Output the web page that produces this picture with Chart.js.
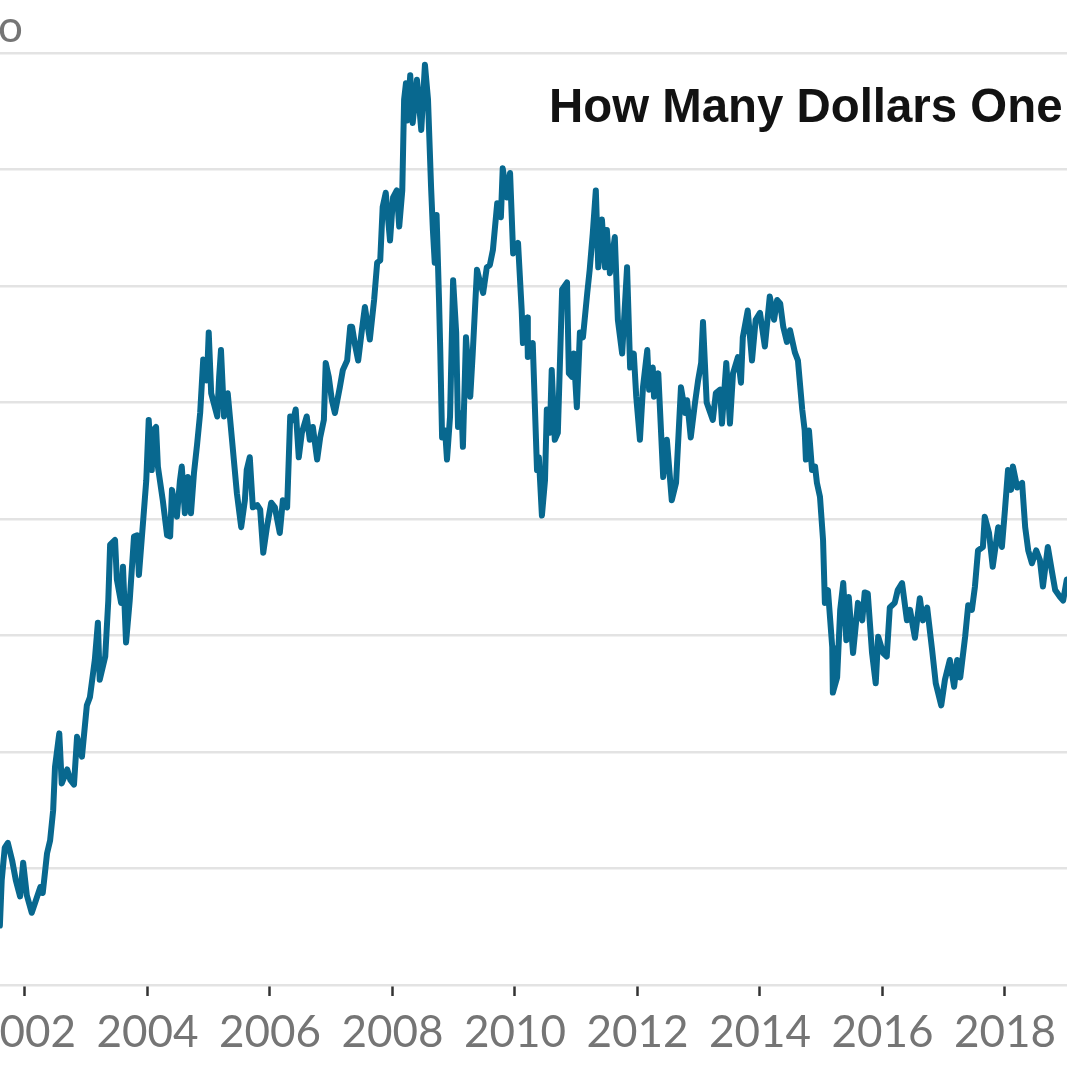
<!DOCTYPE html>
<html><head><meta charset="utf-8">
<script src="https://cdn.jsdelivr.net/npm/chart.js@4.4.1/dist/chart.umd.min.js"></script>
<style>
html,body{margin:0;padding:0;background:#fff;overflow:hidden;width:1067px;height:1067px;position:relative;}
#wrap{position:absolute;left:-60px;top:0;width:1187px;height:1067px;}
#title{position:absolute;left:549px;top:82px;font-family:"Liberation Sans",Arial,sans-serif;font-weight:bold;font-size:47.4px;line-height:47px;color:#121212;white-space:nowrap;}
</style></head><body>
<div id="wrap"><canvas id="c" width="1187" height="1067"></canvas></div>
<div id="title">How Many Dollars One Euro Buys</div>
<script>
// Dates as decimal years, values in dollars per euro
const dates = [
2001.59,2001.62,2001.67,2001.72,2001.79,2001.85,2001.92,2001.97,2002.03,2002.11,2002.18,2002.25,2002.29,2002.36,2002.41,2002.46,2002.49,2002.56,2002.60,2002.69,2002.74,2002.80,2002.85,2002.93,
2003.01,2003.06,2003.14,2003.19,2003.22,2003.31,2003.36,2003.39,2003.47,2003.50,2003.57,2003.60,2003.65,2003.71,2003.78,2003.83,2003.86,2003.93,2003.98,
2004.02,2004.07,2004.09,2004.14,2004.17,2004.25,2004.32,2004.37,2004.40,2004.45,2004.48,2004.53,2004.56,2004.61,2004.66,2004.71,2004.76,2004.81,2004.86,2004.91,2004.97,
2005.00,2005.04,2005.10,2005.14,2005.17,2005.20,2005.25,2005.31,2005.38,2005.46,2005.53,2005.59,2005.62,2005.67,2005.72,2005.79,2005.84,2005.89,2005.95,
2006.02,2006.08,2006.16,2006.21,2006.28,2006.33,2006.38,2006.42,2006.47,2006.52,2006.60,2006.65,2006.70,2006.77,2006.82,2006.88,2006.91,2006.96,
2007.01,2007.06,2007.14,2007.19,2007.26,2007.31,2007.34,2007.39,2007.44,2007.50,2007.55,2007.63,2007.70,2007.75,2007.80,2007.84,2007.89,2007.96,
2008.01,2008.07,2008.11,2008.16,2008.19,2008.22,2008.24,2008.29,2008.33,2008.40,2008.47,2008.53,2008.58,2008.63,2008.66,2008.69,2008.72,2008.76,2008.78,2008.81,2008.86,2008.89,2008.94,2008.99,
2009.04,2009.07,2009.13,2009.15,2009.20,2009.27,2009.31,2009.38,2009.43,2009.48,2009.54,2009.59,2009.64,2009.71,2009.77,2009.80,2009.87,2009.92,2009.97,
2010.05,2010.11,2010.13,2010.20,2010.21,2010.29,2010.36,2010.39,2010.44,2010.49,2010.52,2010.57,2010.60,2010.65,2010.70,2010.77,2010.85,2010.88,2010.93,2010.96,
2011.01,2011.06,2011.11,2011.18,2011.22,2011.27,2011.32,2011.36,2011.42,2011.47,2011.50,2011.55,2011.63,2011.68,2011.75,2011.83,2011.88,2011.94,2011.98,
2012.04,2012.09,2012.16,2012.19,2012.25,2012.27,2012.34,2012.42,2012.48,2012.56,2012.63,2012.71,2012.78,2012.81,2012.87,2012.94,2012.99,
2013.04,2013.07,2013.13,2013.23,2013.28,2013.35,2013.38,2013.45,2013.51,2013.56,2013.64,2013.69,2013.72,2013.80,2013.87,2013.93,
2014.00,2014.08,2014.16,2014.23,2014.28,2014.33,2014.38,2014.44,2014.49,2014.57,2014.62,2014.69,2014.73,2014.75,2014.80,2014.85,2014.90,2014.93,2014.98,
2015.03,2015.06,2015.11,2015.18,2015.19,2015.26,2015.31,2015.36,2015.41,2015.45,2015.52,2015.60,2015.67,2015.71,2015.76,2015.83,2015.89,2015.93,
2016.01,2016.07,2016.12,2016.20,2016.25,2016.32,2016.40,2016.45,2016.53,2016.61,2016.66,2016.73,2016.81,2016.87,2016.96,
2017.02,2017.10,2017.17,2017.22,2017.27,2017.35,2017.40,2017.46,2017.51,2017.56,2017.64,2017.67,2017.74,2017.80,2017.89,2017.95,
2018.00,2018.05,2018.10,2018.13,2018.20,2018.28,2018.33,2018.38,2018.44,2018.51,2018.57,2018.62,2018.70,2018.77,2018.82,2018.90,2018.95,2019.01
];
const rates = [
0.851,0.890,0.918,0.922,0.907,0.890,0.876,0.905,0.877,0.862,0.873,0.884,0.879,0.913,0.924,0.950,0.987,1.016,0.973,0.985,0.976,0.972,1.013,0.996,
1.040,1.047,1.079,1.111,1.062,1.082,1.130,1.178,1.182,1.148,1.128,1.159,1.094,1.130,1.185,1.186,1.152,1.199,1.233,
1.285,1.242,1.276,1.279,1.245,1.216,1.186,1.185,1.225,1.210,1.202,1.233,1.245,1.205,1.236,1.205,1.240,1.264,1.291,1.337,1.319,
1.360,1.308,1.296,1.288,1.322,1.345,1.288,1.308,1.268,1.222,1.193,1.216,1.242,1.253,1.210,1.212,1.208,1.171,1.193,
1.214,1.210,1.188,1.216,1.210,1.288,1.285,1.294,1.253,1.274,1.288,1.268,1.279,1.251,1.270,1.285,1.334,1.322,
1.302,1.291,1.313,1.328,1.336,1.365,1.365,1.349,1.336,1.362,1.382,1.354,1.388,1.420,1.422,1.468,1.480,1.439,
1.476,1.482,1.451,1.482,1.560,1.574,1.542,1.581,1.540,1.577,1.534,1.590,1.560,1.485,1.448,1.420,1.461,1.388,1.345,1.270,1.276,1.251,1.288,1.405,
1.360,1.279,1.291,1.262,1.356,1.305,1.342,1.414,1.403,1.394,1.416,1.418,1.431,1.471,1.459,1.501,1.476,1.497,1.428,
1.437,1.379,1.351,1.373,1.339,1.351,1.242,1.253,1.203,1.233,1.294,1.274,1.328,1.268,1.274,1.397,1.403,1.325,1.322,1.342,
1.296,1.360,1.356,1.394,1.414,1.445,1.482,1.416,1.457,1.416,1.448,1.411,1.442,1.371,1.342,1.416,1.330,1.342,1.305,
1.268,1.313,1.345,1.311,1.330,1.305,1.325,1.236,1.268,1.216,1.231,1.313,1.291,1.302,1.270,1.300,1.319,
1.334,1.369,1.300,1.285,1.308,1.311,1.282,1.334,1.282,1.325,1.339,1.317,1.356,1.379,1.336,1.371,
1.377,1.348,1.391,1.371,1.388,1.385,1.365,1.352,1.362,1.343,1.336,1.294,1.276,1.251,1.276,1.242,1.245,1.231,1.219,
1.182,1.128,1.139,1.090,1.051,1.064,1.122,1.145,1.096,1.133,1.085,1.128,1.113,1.137,1.136,1.085,1.059,1.099,
1.085,1.082,1.124,1.128,1.139,1.145,1.113,1.122,1.098,1.132,1.113,1.124,1.088,1.059,1.040,
1.062,1.079,1.056,1.079,1.064,1.099,1.126,1.122,1.142,1.173,1.176,1.202,1.188,1.159,1.193,1.176,
1.208,1.242,1.225,1.245,1.227,1.231,1.193,1.173,1.162,1.173,1.165,1.142,1.176,1.154,1.139,1.133,1.130,1.148
];
const xTickYears = [2002, 2004, 2006, 2008, 2010, 2012, 2014, 2016, 2018];
const yTickValues = [0.8, 0.9, 1.0, 1.1, 1.2, 1.3, 1.4, 1.5, 1.6];
const yTickLabels = ['0.80', '0.90', '1.00', '1.10', '1.20', '1.30', '1.40', '1.50', '$1.60 per euro'];

const yLabelPlugin = {
  id: 'yLabels',
  afterDraw(chart) {
    const ctx = chart.ctx, ys = chart.scales.y, area = chart.chartArea;
    ctx.save();
    ctx.font = '44px Lato';
    ctx.fillStyle = '#757575';
    ctx.textAlign = 'left';
    ctx.textBaseline = 'alphabetic';
    const topW = ctx.measureText(yTickLabels[yTickLabels.length - 1]).width;
    const startX = area.left + 23 - topW;
    yTickValues.forEach((v, i) => {
      ctx.fillText(yTickLabels[i], startX, ys.getPixelForValue(v) - 11);
    });
    ctx.restore();
  }
};

new Chart(document.getElementById('c').getContext('2d'), {
  type: 'line',
  data: {
    datasets: [{
      data: dates.map((d, i) => ({ x: d, y: rates[i] })),
      borderColor: '#08688f',
      borderWidth: 6,
      pointRadius: 0,
      tension: 0,
      borderJoinStyle: 'round',
      borderCapStyle: 'round',
      fill: false
    }]
  },
  options: {
    responsive: false,
    animation: false,
    devicePixelRatio: 1,
    layout: { padding: { left: 60, right: 60, top: 53, bottom: 0 } },
    plugins: { legend: { display: false }, tooltip: { enabled: false } },
    scales: {
      x: {
        type: 'linear',
        min: 2001.592,
        max: 2019.013,
        afterBuildTicks: s => { s.ticks = xTickYears.map(v => ({ value: v })); },
        afterFit: s => { s.height = 82; s.paddingLeft = 0; s.paddingRight = 0; },
        grid: { display: true, drawOnChartArea: false, drawTicks: true, tickLength: 11, tickColor: '#333', tickWidth: 2.5, color: '#333' },
        border: { display: false },
        ticks: { padding: 10, color: '#757575', font: { family: 'Lato', size: 44 }, maxRotation: 0, autoSkip: false, callback: v => String(v) }
      },
      y: {
        min: 0.8,
        max: 1.6,
        afterBuildTicks: s => { s.ticks = yTickValues.map(v => ({ value: v })); },
        afterFit: s => { s.width = 0; s.paddingTop = 0; s.paddingBottom = 0; },
        ticks: { display: false },
        grid: { color: '#e3e3e3', lineWidth: 2.5, drawTicks: false },
        border: { display: false }
      }
    }
  },
  plugins: [yLabelPlugin]
});
</script>
</body></html>
